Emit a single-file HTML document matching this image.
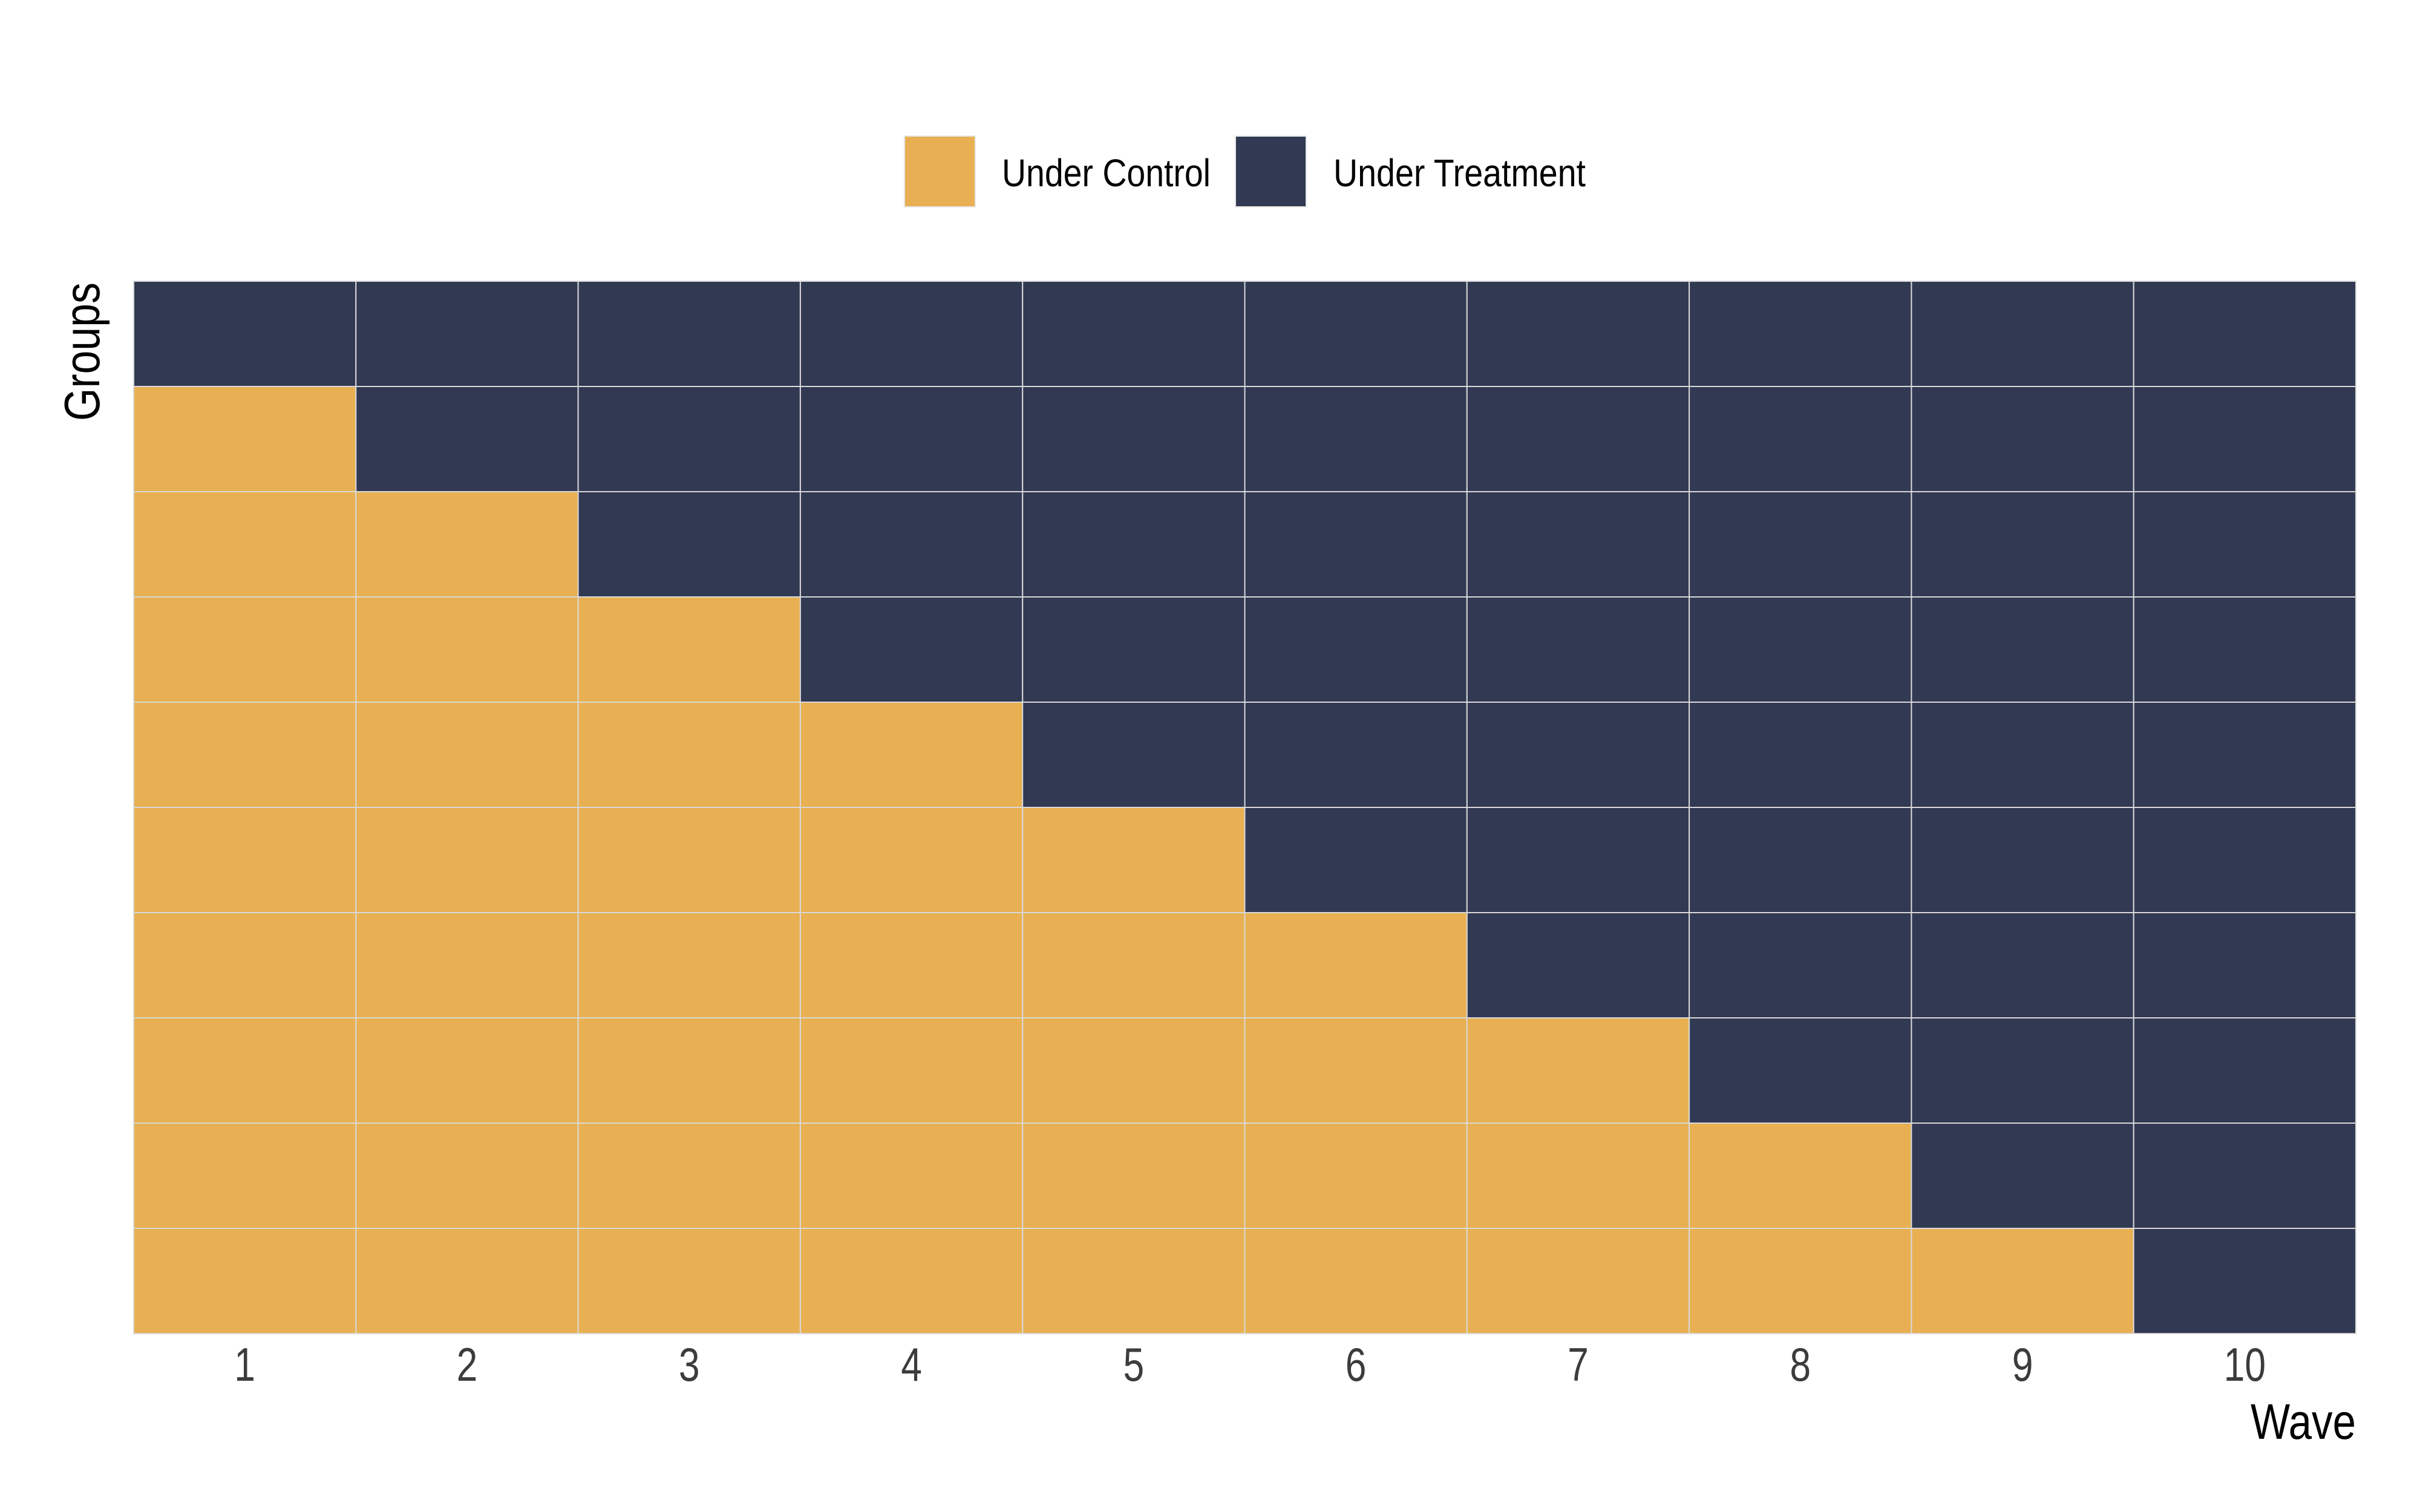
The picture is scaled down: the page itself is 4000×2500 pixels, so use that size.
<!DOCTYPE html>
<html><head><meta charset="utf-8"><style>
html,body{margin:0;padding:0;background:#fff;}
svg{display:block;}
text{font-family:"Liberation Sans Narrow","Liberation Sans",sans-serif;}
</style></head><body>
<svg id="chart" width="4000" height="2500" viewBox="0 0 4000 2500" xmlns="http://www.w3.org/2000/svg">
<rect width="4000" height="2500" fill="#fff"/>
<g id="legend">
  <rect x="1495" y="225" width="117" height="117" fill="#E8B052" stroke="#e6e6e6" stroke-width="2"/>
  <text x="1656" y="308" font-size="64" textLength="345" lengthAdjust="spacingAndGlyphs" fill="#000">Under Control</text>
  <rect x="2042" y="225" width="117" height="117" fill="#323952" stroke="#e6e6e6" stroke-width="2"/>
  <text x="2204" y="308" font-size="64" textLength="417" lengthAdjust="spacingAndGlyphs" fill="#000">Under Treatment</text>
</g>
<g id="cells"></g>
<g id="xticks"></g>
<text x="3894" y="2379" font-size="83" text-anchor="end" textLength="174" lengthAdjust="spacingAndGlyphs" fill="#000">Wave</text>
<text transform="translate(164,467) rotate(-90)" font-size="83" text-anchor="end" textLength="229" lengthAdjust="spacingAndGlyphs" fill="#000">Groups</text>
</svg>
<script>
const waves = [1,2,3,4,5,6,7,8,9,10];
const groups = [1,2,3,4,5,6,7,8,9,10]; // top to bottom
const treatStart = [1,2,3,4,5,6,7,8,9,10]; // first treated wave for each group
const tickLabels = ["1","2","3","4","5","6","7","8","9","10"];

const X0 = 221, X1 = 3894, Y0 = 465, Y1 = 2205;
const colW = (X1 - X0) / waves.length;
const rowH = (Y1 - Y0) / groups.length;
function xPos(w){ return X0 + (waves.indexOf(w)) * colW; }
function yPos(g){ return Y0 + (groups.indexOf(g)) * rowH; }

const ns = "http://www.w3.org/2000/svg";
const cells = document.getElementById('cells');
groups.forEach((g, gi) => {
  waves.forEach(w => {
    const r = document.createElementNS(ns, 'rect');
    r.setAttribute('x', xPos(w));
    r.setAttribute('y', yPos(g));
    r.setAttribute('width', colW);
    r.setAttribute('height', rowH);
    const treated = w >= treatStart[gi];
    r.setAttribute('fill', treated ? '#323952' : '#E8B052');
    r.setAttribute('stroke', '#d9d9d9');
    r.setAttribute('stroke-width', '2');
    
    
    cells.appendChild(r);
  });
});
const xt = document.getElementById('xticks');
waves.forEach((w, i) => {
  const t = document.createElementNS(ns, 'text');
  t.setAttribute('transform', 'translate(' + (xPos(w) + colW / 2) + ',2283) scale(0.8,1)');
  t.setAttribute('font-size', '78');
  t.setAttribute('text-anchor', 'middle');
  t.setAttribute('fill', '#3c3c3c');
  t.textContent = tickLabels[i];
  
  
  xt.appendChild(t);
});
</script>
</body></html>
